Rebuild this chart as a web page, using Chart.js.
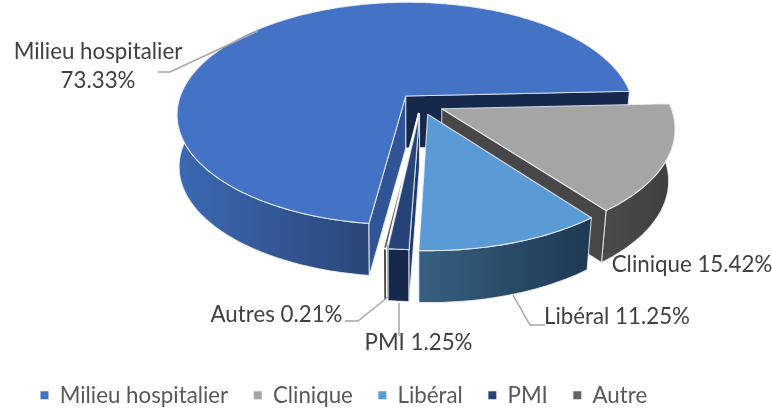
<!DOCTYPE html>
<html><head><meta charset="utf-8">
<style>html,body{margin:0;padding:0;background:#fff}canvas{display:block}</style>
<script src="https://cdn.jsdelivr.net/npm/chart.js@4"></script>
</head><body><canvas id="c" width="772" height="409"></canvas>
<script>
const categories = ["Milieu hospitalier","Clinique","Libéral","PMI","Autre"];
const values = [73.33,15.42,11.25,1.25,0.21];
const explosion = [10,10,9.5,8.5,8.5];
const topColors = ["#4472C4","#A5A5A5","#5B9BD5","#264478","#636363"];
const wallFrom = ["#3C69B4","#4A4A4A","#36607F","#16294D","#4A4A4A"];
const wallTo = ["#294678","#3E3E3E","#1E3953","#16294D","#4A4A4A"];
const cutStart = ["#2F5597","#4A4A4A","#36607F","#1F3A70","#5A5A5A"];
const cutEnd = ["#16294D","#474747","#1E3953","#1F3F7A","#5A5A5A"];
const paintOrder = [0,4,1,2,3];
const labelLines = [["Milieu hospitalier","73.33%"],["Clinique 15.42%"],["Libéral 11.25%"],["PMI 1.25%"],["Autres 0.21%"]];
const labelAt = [[98,52],[692,265],[617,317],[418.5,343],[276.5,315]];
const leaders = [[[158,72],[170,72],[258,31]],[],[[545,325],[530,325],[513,295]],[[399,303],[399,336]],[[345,321],[358,321],[388,297],[388,245]]];
const FONT = "Lato, sans-serif", FS = 22.3;
const CX=421, CY=104, AX=228, KY=111, PERSP=0.16, DEPTH=52, CONVERGE_R=0.025, CONVERGE_L=0.008;

function P(u,v,dz){const w=1-PERSP*v,d=dz||0,c=u>0?CONVERGE_R:CONVERGE_L;return [CX+AX*u/w*(1-c*d/DEPTH), CY+KY*v/w+d];}
const pie3d = {
  id:'pie3d',
  beforeDatasetDraw(){return false;},
  afterDatasetsDraw(chart){
    const ctx=chart.ctx, arcs=chart.getDatasetMeta(0).data;
    paintOrder.forEach(i=>{
      const arc=arcs[i];
      const a0=arc.startAngle,a1=arc.endAngle,mid=(a0+a1)/2,R=arc.outerRadius;
      const o=arc.options.offset/R, ox=o*Math.cos(mid), oy=o*Math.sin(mid);
      const steps=Math.max(6,Math.ceil((a1-a0)*60));
      const rim=[];
      for(let s=0;s<=steps;s++){const t=a0+(a1-a0)*s/steps;rim.push([ox+Math.cos(t),oy+Math.sin(t)]);}
      const apex=[ox,oy];
      const path=(pts)=>{ctx.beginPath();pts.forEach((p,j)=>j?ctx.lineTo(p[0],p[1]):ctx.moveTo(p[0],p[1]));ctx.closePath();};
      const thin=(a1-a0)<0.03;
      ctx.save();ctx.lineJoin='round';ctx.lineWidth=thin?1.6:1.1;
      ctx.strokeStyle=thin?'#ffffff':'rgba(240,243,250,0.8)';
      const front=rim.filter(p=>p[1]-oy>-0.22);
      if(front.length>1){
        const top=front.map(p=>P(p[0],p[1],0)), bot=front.map(p=>P(p[0],p[1],DEPTH)).reverse();
        const xs=top.map(p=>p[0]);
        let minX=Math.min(...xs),maxX=Math.max(...xs);
        if(i===0){maxX=top.reduce((m,p)=>p[1]>m[1]?p:m,top[0])[0];}
        const g=ctx.createLinearGradient(minX,0,maxX+1,0);
        g.addColorStop(0,wallFrom[i]);g.addColorStop(1,wallTo[i]);
        ctx.fillStyle=g;path(top.concat(bot));ctx.fill();ctx.stroke();
      }
      const cut=(rp,col)=>{
        ctx.fillStyle=col;
        path([P(apex[0],apex[1],0),P(rp[0],rp[1],0),P(rp[0],rp[1],DEPTH),P(apex[0],apex[1],DEPTH)]);
        ctx.fill();ctx.stroke();};
      if(-Math.cos(a0)>0) cut(rim[0],cutStart[i]);
      if(Math.cos(a1)>0) cut(rim[rim.length-1],cutEnd[i]);
      ctx.fillStyle=topColors[i];
      path([P(apex[0],apex[1],0)].concat(rim.map(p=>P(p[0],p[1],0))));ctx.fill();ctx.stroke();
      ctx.restore();
    });
    ctx.save();
    ctx.strokeStyle='#A6A6A6';ctx.lineWidth=1.5;
    leaders.forEach(l=>{if(!l.length)return;ctx.beginPath();l.forEach((p,j)=>j?ctx.lineTo(p[0],p[1]):ctx.moveTo(p[0],p[1]));ctx.stroke();});
    ctx.fillStyle='#404040';ctx.font=FS+'px '+FONT;ctx.textAlign='center';ctx.textBaseline='middle';
    labelLines.forEach((ls,i)=>ls.forEach((t,j)=>ctx.fillText(t,labelAt[i][0],labelAt[i][1]+j*29)));
    ctx.restore();
  }
};
new Chart(document.getElementById('c'),{
  type:'pie',
  data:{labels:categories,datasets:[{data:values,backgroundColor:topColors,offset:explosion,borderWidth:0,radius:100}]},
  options:{
    responsive:false,animation:false,rotation:187.3,
    layout:{padding:{left:15,right:0,top:0,bottom:-7.5}},
    plugins:{tooltip:{enabled:false},
      legend:{position:'bottom',align:'start',
        labels:{boxWidth:8,boxHeight:8,padding:25.5,color:'#595959',font:{family:FONT,size:FS}}}}
  },
  plugins:[pie3d]
});
</script></body></html>
